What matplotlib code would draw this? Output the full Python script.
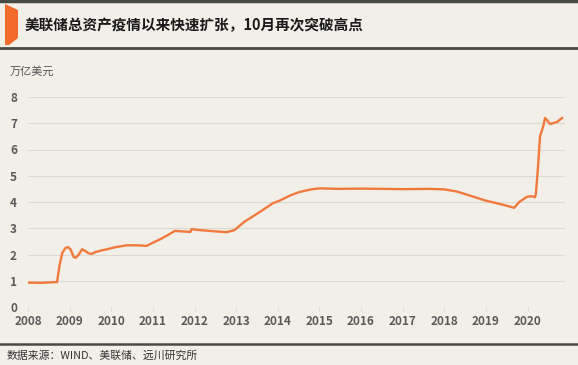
import matplotlib.pyplot as plt
from matplotlib.patches import Polygon
from matplotlib.lines import Line2D

plt.rcParams['font.family'] = ['Noto Sans CJK SC', 'DejaVu Sans']

# 美联储总资产（万亿美元），按年份小数读取
years = [2008.0, 2008.3, 2008.7, 2008.72, 2008.76, 2008.82, 2008.9, 2008.96, 2009.02, 2009.1,
         2009.15, 2009.22, 2009.3, 2009.36, 2009.45, 2009.53, 2009.6, 2009.75, 2009.9, 2010.1,
         2010.37, 2010.6, 2010.85, 2011.0, 2011.2, 2011.4, 2011.53, 2011.7, 2011.9, 2011.93,
         2012.0, 2012.2, 2012.5, 2012.77, 2012.96, 2013.2, 2013.5, 2013.88, 2014.04, 2014.3,
         2014.52, 2014.8, 2015.0, 2015.5, 2016.0, 2016.5, 2017.0, 2017.64, 2018.0, 2018.3,
         2018.7, 2019.0, 2019.4, 2019.68, 2019.8, 2019.99, 2020.1, 2020.18, 2020.2, 2020.25,
         2020.3, 2020.38, 2020.42, 2020.48, 2020.54, 2020.71, 2020.83]
assets = [0.93, 0.92, 0.95, 1.2, 1.6, 2.05, 2.25, 2.28, 2.2, 1.9,
          1.88, 2.0, 2.2, 2.15, 2.05, 2.02, 2.08, 2.15, 2.2, 2.28,
          2.35, 2.35, 2.33, 2.45, 2.6, 2.78, 2.9, 2.88, 2.86, 2.97,
          2.95, 2.92, 2.88, 2.85, 2.93, 3.25, 3.55, 3.95, 4.05, 4.25,
          4.38, 4.48, 4.52, 4.5, 4.51, 4.5, 4.49, 4.5, 4.48, 4.4,
          4.2, 4.05, 3.9, 3.78, 4.0, 4.2, 4.22, 4.18, 4.3, 5.3,
          6.5, 6.9, 7.2, 7.1, 6.97, 7.05, 7.2]
year_ticks = list(range(2008, 2021))
y_ticks = list(range(0, 9))

title = '美联储总资产疫情以来快速扩张，10月再次突破高点'
unit = '万亿美元'
source = '数据来源：WIND、美联储、远川研究所'

bg = '#f1efe8'
W, H = 578, 365
fig = plt.figure(figsize=(W / 100, H / 100), dpi=100, facecolor=bg)

ax = fig.add_axes([28 / W, 1 - 307 / H, (565 - 28) / W, (307 - 97) / H])
ax.set_facecolor(bg)
ax.plot(years, assets, color='#f07a3e', lw=1.7, solid_joinstyle='round')
ax.set_xlim(2008, 2020.9)
ax.set_ylim(0, 8)
ax.set_yticks(y_ticks)
ax.set_xticks(year_ticks)
ax.grid(axis='y', color='#dcdad2', lw=0.8)
for s in ax.spines.values():
    s.set_visible(False)
ax.tick_params(axis='y', length=0, pad=8, labelsize=8.5, labelcolor='#5a5a5a')
ax.tick_params(axis='x', length=3, color='#dcdad2', pad=3, labelsize=8.5, labelcolor='#5a5a5a')
for lab in ax.get_xticklabels() + ax.get_yticklabels():
    lab.set_fontweight('bold')

# 标题栏
fig.add_artist(Line2D([0, 1], [1 - 1 / H, 1 - 1 / H], color='#4a4a44', lw=2.5))
fig.add_artist(Line2D([0, 1], [1 - 47.5 / H, 1 - 47.5 / H], color='#4a4a44', lw=2))
pts = [(5, 4), (18, 10), (18, 38), (9, 45), (5, 45)]
fig.add_artist(Polygon([(x / W, 1 - y / H) for x, y in pts], closed=True,
                       facecolor='#f26a2c', edgecolor='none'))
fig.text(25 / W, 1 - 25 / H, title, fontsize=10.5, fontweight='bold', color='#1a1a1a', va='center')

fig.text(10 / W, 1 - 72 / H, unit, fontsize=8, color='#555555', va='center')

fig.add_artist(Line2D([0, 1], [1 - 343.5 / H, 1 - 343.5 / H], color='#4a4a44', lw=1.8))
fig.text(7 / W, 1 - 356 / H, source, fontsize=7.8, color='#333333', va='center')

plt.savefig('out.png', dpi=100, facecolor=bg)
